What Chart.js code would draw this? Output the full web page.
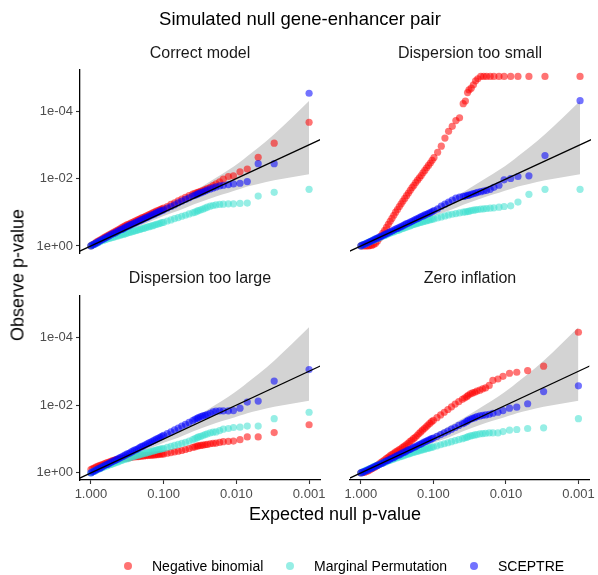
<!DOCTYPE html>
<html>
<head>
<meta charset="utf-8">
<script src="https://cdn.jsdelivr.net/npm/chart.js@4.4.1/dist/chart.umd.min.js"></script>
<style>
  body { margin: 0; background: #fff; font-family: "Liberation Sans", Arial, sans-serif; }
  #wrap { position: relative; width: 598px; height: 575px; overflow: hidden; }
  #wrap canvas { position: absolute; left: 0; top: 0; }
  .txt { position: absolute; white-space: nowrap; transform: translate(-50%, -50%); color: #000; }
  .dot { position: absolute; width: 8px; height: 8px; border-radius: 50%; transform: translate(-50%, -50%); }
</style>
</head>
<body>
<div id="wrap">
  <canvas id="c0" width="598" height="575"></canvas>
  <canvas id="c1" width="598" height="575"></canvas>
  <canvas id="c2" width="598" height="575"></canvas>
  <canvas id="c3" width="598" height="575"></canvas>

  <div class="txt" style="left:300px;top:19px;font-size:18.5px;">Simulated null gene-enhancer pair</div>
  <div class="txt" id="s0" style="left:200px;top:53px;font-size:16px;color:#1a1a1a;"></div>
  <div class="txt" id="s1" style="left:470px;top:53px;font-size:16px;color:#1a1a1a;"></div>
  <div class="txt" id="s2" style="left:200px;top:278px;font-size:16px;color:#1a1a1a;"></div>
  <div class="txt" id="s3" style="left:470px;top:278px;font-size:16px;color:#1a1a1a;"></div>
  <div class="txt" style="left:18px;top:275px;font-size:18px;transform:translate(-50%,-50%) rotate(-90deg);">Observe p-value</div>
  <div class="txt" style="left:335px;top:514px;font-size:18px;">Expected null p-value</div>

  <div class="dot" style="left:128px;top:566px;background:rgba(255,0,0,0.55);"></div>
  <div class="txt" style="left:152px;top:566px;font-size:14px;transform:translate(0,-50%);">Negative binomial</div>
  <div class="dot" style="left:290px;top:566px;background:rgba(64,224,208,0.55);"></div>
  <div class="txt" style="left:314px;top:566px;font-size:14px;transform:translate(0,-50%);">Marginal Permutation</div>
  <div class="dot" style="left:474px;top:566px;background:rgba(0,0,255,0.55);"></div>
  <div class="txt" style="left:498px;top:566px;font-size:14px;transform:translate(0,-50%);">SCEPTRE</div>
</div>

<script>
// all values are -log10(p)
const facetTitles = ['Correct model', 'Dispersion too small', 'Dispersion too large', 'Zero inflation'];

const xTickValues = [0, 1, 2, 3];
const xTickLabels = ['1.000', '0.100', '0.010', '0.001'];
const yTickValues = [0, 2, 4];
const yTickLabels = ['1e+00', '1e-02', '1e-04'];

// expected null quantiles (shared by every series)
const expected = [
  0.000, 0.025, 0.050, 0.075, 0.100, 0.125, 0.150, 0.175, 0.200, 0.225,
  0.250, 0.275, 0.300, 0.325, 0.350, 0.375, 0.400, 0.425, 0.450, 0.475,
  0.500, 0.525, 0.550, 0.575, 0.600, 0.625, 0.650, 0.675, 0.700, 0.725,
  0.750, 0.775, 0.800, 0.825, 0.850, 0.875, 0.900, 0.925, 0.950, 0.975,
  1.000, 1.05, 1.10, 1.15, 1.20, 1.25, 1.30, 1.35, 1.40,
  1.43, 1.46, 1.48, 1.51, 1.54, 1.57, 1.60, 1.64, 1.68, 1.72,
  1.77, 1.82, 1.89, 1.96, 2.05, 2.15, 2.30, 2.52, 3.00];

// Correct model
const nbCorrect = [
  0.00, 0.04, 0.07, 0.11, 0.14, 0.17, 0.20, 0.24, 0.27, 0.30,
  0.33, 0.36, 0.39, 0.42, 0.45, 0.48, 0.51, 0.54, 0.57, 0.60,
  0.63, 0.65, 0.68, 0.70, 0.73, 0.75, 0.78, 0.80, 0.83, 0.85,
  0.88, 0.90, 0.93, 0.95, 0.98, 1.00, 1.03, 1.05, 1.08, 1.10,
  1.12, 1.17, 1.23, 1.28, 1.34, 1.39, 1.44, 1.49, 1.54,
  1.56, 1.58, 1.60, 1.62, 1.64, 1.67, 1.70, 1.74, 1.79, 1.84,
  1.90, 1.98, 2.06, 2.08, 2.20, 2.28, 2.63, 3.05, 3.67];
const permCorrect = [
  0.00, 0.03, 0.05, 0.08, 0.10, 0.13, 0.15, 0.17, 0.19, 0.21,
  0.22, 0.24, 0.25, 0.27, 0.29, 0.30, 0.32, 0.33, 0.35, 0.36,
  0.38, 0.40, 0.41, 0.43, 0.44, 0.46, 0.48, 0.49, 0.51, 0.52,
  0.54, 0.56, 0.57, 0.59, 0.60, 0.62, 0.64, 0.65, 0.67, 0.69,
  0.70, 0.74, 0.77, 0.81, 0.84, 0.88, 0.91, 0.95, 0.98,
  1.00, 1.03, 1.05, 1.07, 1.09, 1.12, 1.15, 1.18, 1.20, 1.22,
  1.23, 1.24, 1.25, 1.25, 1.26, 1.27, 1.48, 1.59, 1.68];
const sceptreCorrect = [
  0.00, 0.03, 0.06, 0.09, 0.12, 0.15, 0.18, 0.21, 0.24, 0.27,
  0.30, 0.33, 0.36, 0.38, 0.41, 0.44, 0.47, 0.49, 0.52, 0.55,
  0.58, 0.60, 0.63, 0.65, 0.68, 0.70, 0.73, 0.75, 0.78, 0.80,
  0.83, 0.85, 0.88, 0.90, 0.93, 0.95, 0.98, 1.00, 1.03, 1.05,
  1.07, 1.12, 1.17, 1.22, 1.28, 1.33, 1.38, 1.43, 1.48,
  1.50, 1.53, 1.55, 1.58, 1.60, 1.63, 1.66, 1.69, 1.72, 1.75,
  1.78, 1.80, 1.82, 1.84, 1.86, 1.91, 2.44, 2.44, 4.53];

// Dispersion too small
const nbSmall = [
  0.00, 0.00, 0.00, 0.00, 0.00, 0.01, 0.02, 0.04, 0.08, 0.14,
  0.22, 0.30, 0.38, 0.46, 0.55, 0.64, 0.73, 0.82, 0.91, 1.00,
  1.08, 1.17, 1.25, 1.33, 1.41, 1.49, 1.57, 1.65, 1.73, 1.80,
  1.88, 1.95, 2.02, 2.09, 2.17, 2.24, 2.32, 2.39, 2.46, 2.54,
  2.62, 2.78, 2.96, 3.20, 3.40, 3.55, 3.72, 3.80, 4.22,
  4.30, 4.55, 4.63, 4.68, 4.78, 4.90, 4.96, 5.03, 5.03, 5.03,
  5.03, 5.03, 5.03, 5.03, 5.03, 5.03, 5.03, 5.03, 5.03];
const permSmall = [
  0.00, 0.03, 0.05, 0.08, 0.10, 0.13, 0.15, 0.17, 0.20, 0.22,
  0.24, 0.27, 0.29, 0.31, 0.33, 0.36, 0.38, 0.40, 0.42, 0.44,
  0.46, 0.48, 0.50, 0.52, 0.54, 0.56, 0.58, 0.60, 0.62, 0.64,
  0.65, 0.67, 0.69, 0.70, 0.72, 0.73, 0.75, 0.76, 0.78, 0.79,
  0.80, 0.83, 0.86, 0.89, 0.92, 0.94, 0.96, 0.98, 1.00,
  1.01, 1.02, 1.03, 1.05, 1.06, 1.07, 1.08, 1.09, 1.10, 1.11,
  1.12, 1.13, 1.15, 1.17, 1.19, 1.30, 1.53, 1.68, 1.68];
const sceptreSmall = [
  0.00, 0.03, 0.05, 0.08, 0.10, 0.13, 0.15, 0.18, 0.21, 0.23,
  0.26, 0.28, 0.31, 0.34, 0.36, 0.39, 0.42, 0.44, 0.47, 0.50,
  0.52, 0.55, 0.57, 0.60, 0.63, 0.66, 0.68, 0.71, 0.73, 0.76,
  0.79, 0.81, 0.84, 0.87, 0.89, 0.92, 0.94, 0.97, 0.99, 1.02,
  1.05, 1.10, 1.18, 1.24, 1.30, 1.36, 1.42, 1.45, 1.47,
  1.48, 1.50, 1.51, 1.53, 1.55, 1.57, 1.59, 1.61, 1.63, 1.65,
  1.68, 1.74, 1.80, 1.96, 2.00, 2.06, 2.08, 2.68, 4.31];

// Dispersion too large
const nbLarge = [
  0.10, 0.13, 0.15, 0.18, 0.20, 0.22, 0.24, 0.26, 0.28, 0.30,
  0.32, 0.34, 0.36, 0.38, 0.39, 0.40, 0.41, 0.42, 0.43, 0.44,
  0.44, 0.45, 0.46, 0.47, 0.47, 0.48, 0.48, 0.49, 0.50, 0.50,
  0.51, 0.51, 0.52, 0.52, 0.53, 0.53, 0.54, 0.54, 0.55, 0.55,
  0.56, 0.58, 0.60, 0.62, 0.64, 0.66, 0.69, 0.72, 0.75,
  0.77, 0.79, 0.80, 0.81, 0.82, 0.83, 0.84, 0.86, 0.87, 0.88,
  0.90, 0.92, 0.93, 0.94, 0.98, 1.06, 1.06, 1.19, 1.42];
const permLarge = [
  0.00, 0.03, 0.05, 0.08, 0.10, 0.13, 0.15, 0.17, 0.19, 0.21,
  0.23, 0.25, 0.27, 0.29, 0.31, 0.33, 0.35, 0.37, 0.39, 0.41,
  0.42, 0.44, 0.46, 0.48, 0.49, 0.51, 0.52, 0.54, 0.55, 0.57,
  0.58, 0.60, 0.61, 0.63, 0.64, 0.66, 0.67, 0.69, 0.70, 0.71,
  0.72, 0.75, 0.78, 0.81, 0.84, 0.87, 0.90, 0.94, 0.98,
  1.01, 1.04, 1.06, 1.08, 1.10, 1.13, 1.15, 1.18, 1.20, 1.21,
  1.25, 1.29, 1.31, 1.34, 1.35, 1.38, 1.38, 1.60, 1.79];
const sceptreLarge = [
  0.00, 0.03, 0.06, 0.09, 0.12, 0.14, 0.17, 0.20, 0.23, 0.25,
  0.28, 0.31, 0.34, 0.36, 0.39, 0.42, 0.45, 0.47, 0.50, 0.53,
  0.56, 0.58, 0.61, 0.64, 0.67, 0.69, 0.72, 0.75, 0.78, 0.80,
  0.83, 0.86, 0.89, 0.91, 0.94, 0.97, 1.00, 1.02, 1.05, 1.08,
  1.11, 1.16, 1.21, 1.27, 1.32, 1.38, 1.43, 1.49, 1.54,
  1.58, 1.61, 1.63, 1.66, 1.68, 1.70, 1.72, 1.76, 1.80, 1.82,
  1.83, 1.83, 1.83, 1.84, 1.91, 2.09, 2.12, 2.71, 3.05];

// Zero inflation
const nbZero = [
  0.00, 0.01, 0.02, 0.04, 0.06, 0.09, 0.12, 0.15, 0.18, 0.22,
  0.26, 0.30, 0.34, 0.38, 0.42, 0.46, 0.50, 0.54, 0.57, 0.61,
  0.64, 0.68, 0.71, 0.75, 0.79, 0.83, 0.87, 0.92, 0.96, 1.01,
  1.05, 1.10, 1.16, 1.21, 1.26, 1.31, 1.36, 1.41, 1.46, 1.51,
  1.55, 1.63, 1.71, 1.79, 1.87, 1.95, 2.03, 2.10, 2.17,
  2.21, 2.25, 2.29, 2.33, 2.36, 2.38, 2.41, 2.44, 2.48, 2.51,
  2.58, 2.73, 2.77, 2.85, 2.94, 2.97, 3.02, 3.15, 4.15];
const permZero = [
  0.00, 0.03, 0.05, 0.08, 0.10, 0.13, 0.15, 0.18, 0.20, 0.22,
  0.24, 0.27, 0.29, 0.31, 0.33, 0.35, 0.37, 0.39, 0.41, 0.43,
  0.45, 0.47, 0.48, 0.50, 0.52, 0.54, 0.55, 0.57, 0.59, 0.61,
  0.62, 0.64, 0.65, 0.67, 0.68, 0.70, 0.71, 0.73, 0.74, 0.76,
  0.77, 0.80, 0.83, 0.86, 0.89, 0.92, 0.95, 0.98, 1.01,
  1.03, 1.05, 1.07, 1.09, 1.10, 1.12, 1.13, 1.15, 1.16, 1.17,
  1.18, 1.18, 1.18, 1.22, 1.26, 1.28, 1.31, 1.33, 1.60];
const sceptreZero = [
  0.00, 0.02, 0.04, 0.07, 0.09, 0.12, 0.14, 0.17, 0.19, 0.22,
  0.24, 0.27, 0.29, 0.32, 0.35, 0.37, 0.40, 0.43, 0.45, 0.48,
  0.51, 0.53, 0.56, 0.59, 0.61, 0.64, 0.67, 0.69, 0.72, 0.75,
  0.77, 0.80, 0.83, 0.85, 0.88, 0.91, 0.93, 0.96, 0.98, 1.01,
  1.03, 1.08, 1.13, 1.18, 1.23, 1.29, 1.34, 1.40, 1.45,
  1.48, 1.52, 1.55, 1.58, 1.61, 1.63, 1.66, 1.68, 1.70, 1.71,
  1.73, 1.76, 1.79, 1.84, 1.91, 1.94, 2.04, 2.40, 2.57];

// grey 95% band around the diagonal
const bandX     = [0.00, 0.30, 0.50, 0.70, 1.00, 1.20, 1.41, 1.72, 1.89, 2.05, 2.15, 2.30, 2.52, 3.00];
const bandUpper = [0.00, 0.34, 0.56, 0.79, 1.13, 1.36, 1.61, 2.02, 2.25, 2.49, 2.66, 2.91, 3.31, 4.30];
const bandLower = [0.00, 0.26, 0.45, 0.62, 0.89, 1.04, 1.23, 1.47, 1.58, 1.69, 1.76, 1.84, 1.95, 2.13];

const xMin = -0.15, xMax = 3.15;
const yMin = -0.21, yMax = 5.22;

const fontFamily = '"Liberation Sans", Arial, sans-serif';
const yAxisWidth = 60;
const xAxisHeight = 30;

const panels = [
  { id: 'c0', title: 0, nb: nbCorrect, perm: permCorrect, sceptre: sceptreCorrect, left: 80, right: 320, top: 70, bottom: 253, showX: false, showY: true },
  { id: 'c1', title: 1, nb: nbSmall, perm: permSmall, sceptre: sceptreSmall, left: 350, right: 591, top: 70, bottom: 253, showX: false, showY: false },
  { id: 'c2', title: 2, nb: nbLarge, perm: permLarge, sceptre: sceptreLarge, left: 80, right: 320, top: 296, bottom: 480, showX: true, showY: true },
  { id: 'c3', title: 3, nb: nbZero, perm: permZero, sceptre: sceptreZero, left: 350, right: 591, top: 296, bottom: 480, showX: true, showY: false }
];

function toPoints(xs, ys) {
  return xs.map((x, i) => ({ x: x, y: ys[i] }));
}

function pointSet(values, color) {
  return {
    type: 'scatter',
    data: toPoints(expected, values),
    backgroundColor: color,
    borderWidth: 0,
    pointRadius: 3.6,
    pointHoverRadius: 3.6
  };
}

function makePanel(p, n) {
  document.getElementById('s' + n).innerText = facetTitles[p.title];

  const axisCommon = {
    type: 'linear',
    grid: { drawOnChartArea: false, drawTicks: true, tickLength: 4, tickColor: '#333', tickWidth: 1.1 },
    border: { display: true, color: '#000', width: 1.3 },
    ticks: { color: '#4d4d4d', font: { size: 13, family: fontFamily }, padding: 3, autoSkip: false, maxRotation: 0 }
  };

  new Chart(document.getElementById(p.id), {
    type: 'scatter',
    data: {
      datasets: [
        {
          type: 'line',
          data: [{ x: xMin - 0.5, y: xMin - 0.5 }, { x: xMax + 0.5, y: xMax + 0.5 }],
          borderColor: '#000',
          borderWidth: 1.2,
          pointRadius: 0,
          fill: false
        },
        pointSet(p.sceptre, 'rgba(0,0,255,0.55)'),
        pointSet(p.perm, 'rgba(64,224,208,0.55)'),
        pointSet(p.nb, 'rgba(255,0,0,0.55)'),
        {
          type: 'line',
          data: toPoints(bandX, bandUpper),
          borderWidth: 0,
          pointRadius: 0,
          cubicInterpolationMode: 'monotone',
          backgroundColor: 'rgb(211,211,211)',
          fill: '+1'
        },
        {
          type: 'line',
          data: toPoints(bandX, bandLower),
          borderWidth: 0,
          pointRadius: 0,
          cubicInterpolationMode: 'monotone',
          fill: false
        }
      ]
    },
    options: {
      responsive: false,
      animation: false,
      events: [],
      layout: {
        autoPadding: false,
        padding: {
          left: p.showY ? p.left - yAxisWidth : p.left,
          right: 598 - p.right,
          top: p.top,
          bottom: p.showX ? 575 - p.bottom - xAxisHeight : 575 - p.bottom
        }
      },
      plugins: { legend: { display: false }, tooltip: { enabled: false } },
      scales: {
        x: Object.assign({}, axisCommon, {
          min: xMin, max: xMax,
          display: p.showX,
          afterBuildTicks: s => { s.ticks = xTickValues.map(v => ({ value: v })); },
          afterFit: s => { s.height = p.showX ? xAxisHeight : 0; },
          ticks: Object.assign({}, axisCommon.ticks, {
            callback: v => xTickLabels[xTickValues.indexOf(v)]
          })
        }),
        y: Object.assign({}, axisCommon, {
          min: yMin, max: yMax,
          display: p.showY,
          afterBuildTicks: s => { s.ticks = yTickValues.map(v => ({ value: v })); },
          afterFit: s => { s.width = p.showY ? yAxisWidth : 0; },
          ticks: Object.assign({}, axisCommon.ticks, {
            callback: v => yTickLabels[yTickValues.indexOf(v)]
          })
        })
      }
    }
  });
}

panels.forEach(makePanel);
</script>
</body>
</html>
